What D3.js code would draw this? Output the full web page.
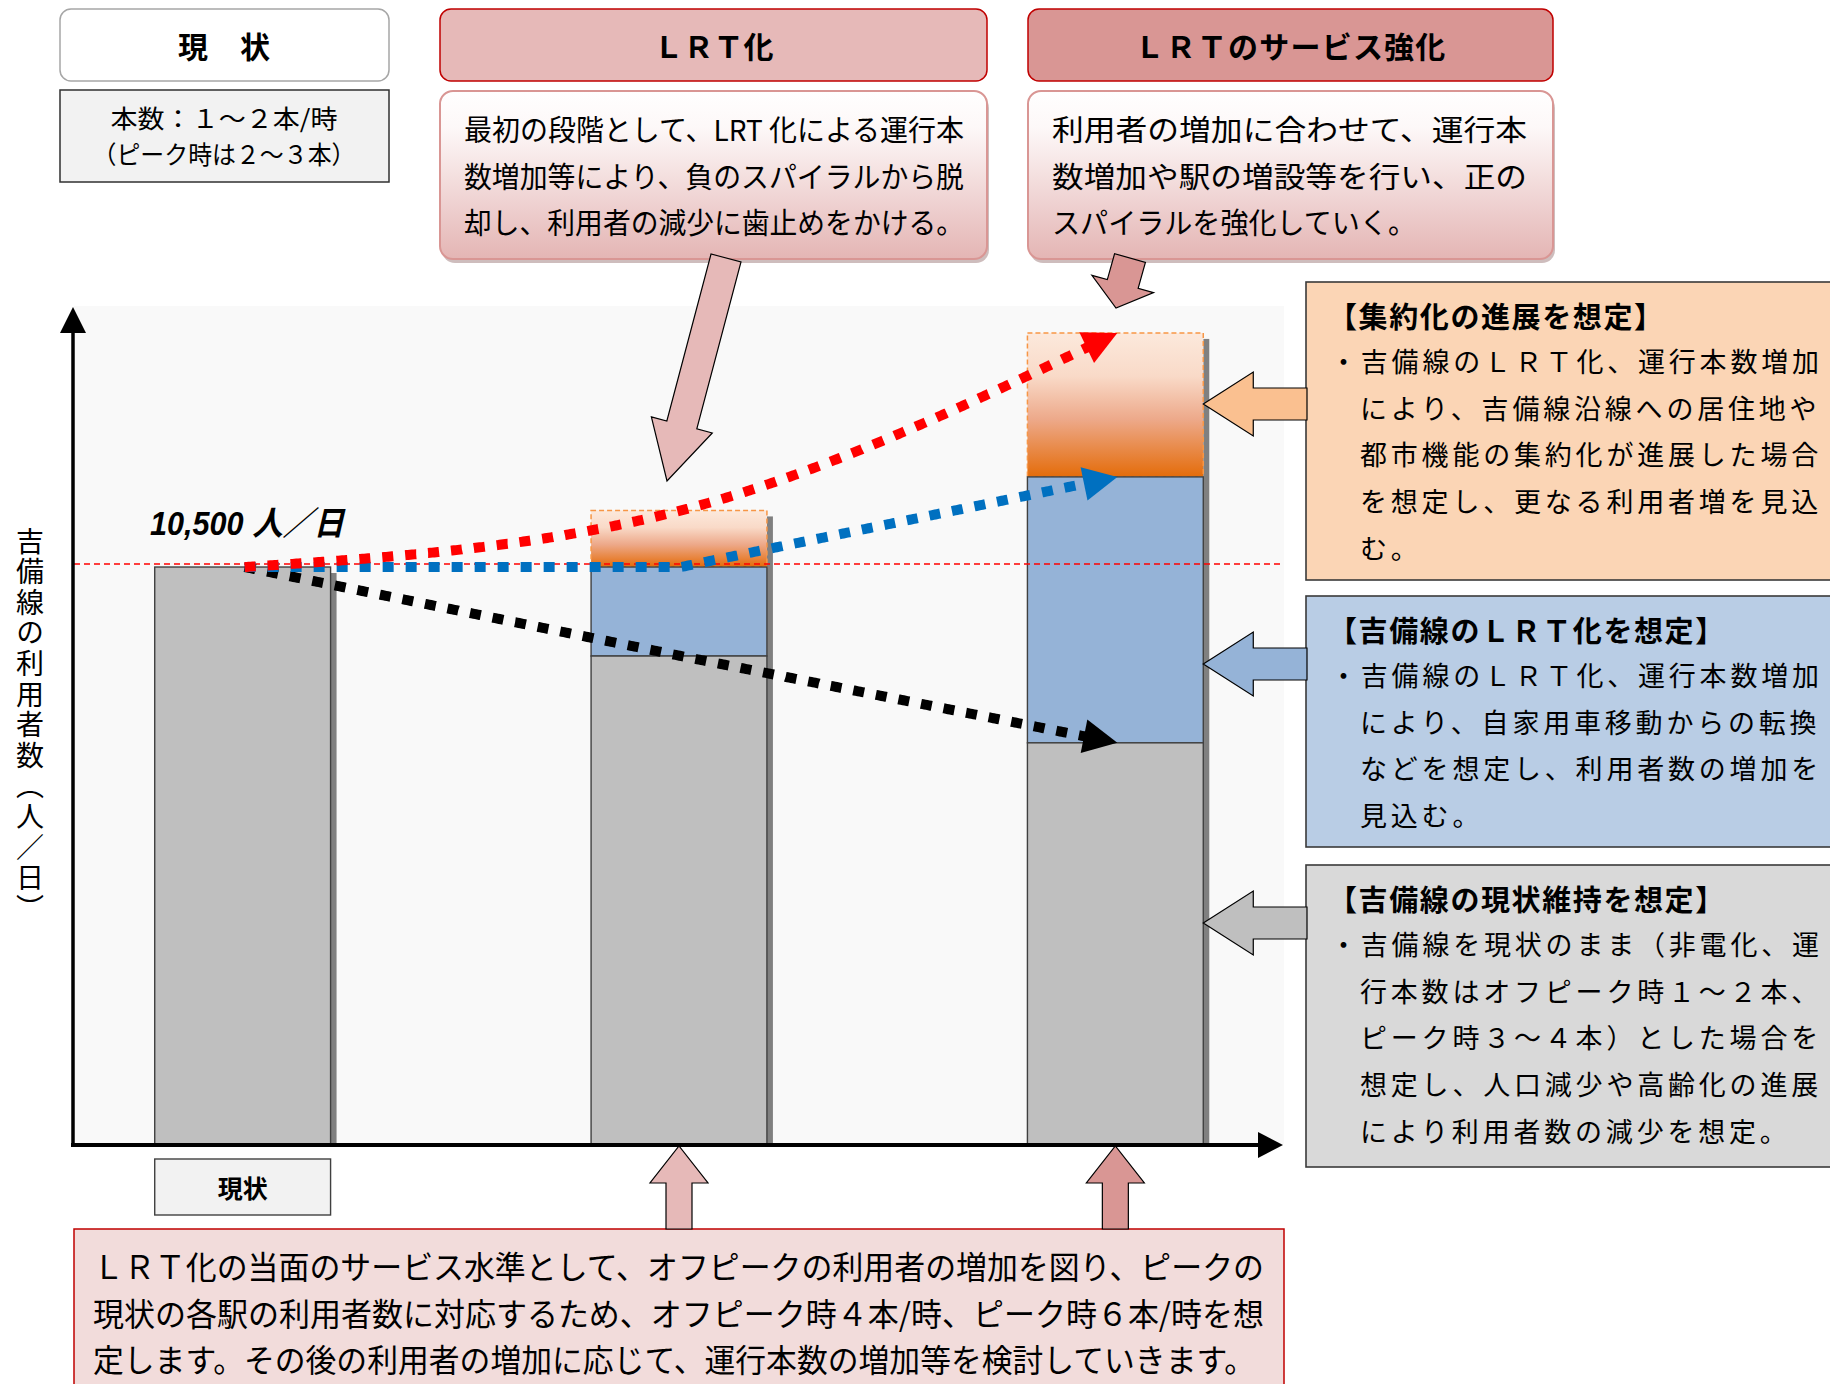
<!DOCTYPE html>
<html>
<head>
<meta charset="utf-8">
<script src="https://cdn.jsdelivr.net/npm/d3@7"></script>
<style>
  html, body { margin: 0; padding: 0; background: #fff; overflow: hidden; }
  svg { display: block; }
  text { font-family: "Noto Sans CJK JP", "Noto Sans", sans-serif; fill: #000; }
</style>
</head>
<body>
<div id="chart"></div>
<script>
// stages along the x axis
const categories = ['現状', 'ＬＲＴ化', 'ＬＲＴのサービス強化'];
// riders per day, stacked per stage
const baseRiders = [10500, 8880, 7300];   // 現状維持
const lrtGain = [0, 1620, 4840];          // ＬＲＴ化による増加
const compactGain = [0, 1030, 2620];      // 集約化による増加
const referenceValue = 10500;
const referenceLabel = '10,500 人／日';
const yAxisLabel = '吉備線の利用者数（人／日）';

const headerLabels = ['現　状', 'ＬＲＴ化', 'ＬＲＴのサービス強化'];
const currentService = ['本数：１～２本/時', '（ピーク時は２～３本）'];
const lrtDesc = ['最初の段階として、LRT 化による運行本', '数増加等により、負のスパイラルから脱', '却し、利用者の減少に歯止めをかける。'];
const serviceDesc = ['利用者の増加に合わせて、運行本', '数増加や駅の増設等を行い、正の', 'スパイラルを強化していく。'];
const compactNote = ['【集約化の進展を想定】', '・吉備線のＬＲＴ化、運行本数増加', 'により、吉備線沿線への居住地や', '都市機能の集約化が進展した場合', 'を想定し、更なる利用者増を見込', 'む。'];
const lrtNote = ['【吉備線のＬＲＴ化を想定】', '・吉備線のＬＲＴ化、運行本数増加', 'により、自家用車移動からの転換', 'などを想定し、利用者数の増加を', '見込む。'];
const keepNote = ['【吉備線の現状維持を想定】', '・吉備線を現状のまま（非電化、運', '行本数はオフピーク時１～２本、', 'ピーク時３～４本）とした場合を', '想定し、人口減少や高齢化の進展', 'により利用者数の減少を想定。'];
const bottomNote = ['ＬＲＴ化の当面のサービス水準として、オフピークの利用者の増加を図り、ピークの', '現状の各駅の利用者数に対応するため、オフピーク時４本/時、ピーク時６本/時を想', '定します。その後の利用者の増加に応じて、運行本数の増加等を検討していきます。'];

const width = 1830, height = 1384;
const plot = { left: 74, right: 1284, top: 306, bottom: 1144 };

const svg = d3.select('#chart').append('svg')
  .attr('width', width).attr('height', height);

const defs = svg.append('defs');

function vGradient(id, stops) {
  const gr = defs.append('linearGradient').attr('id', id)
    .attr('x1', 0).attr('y1', 0).attr('x2', 0).attr('y2', 1);
  stops.forEach(s => gr.append('stop').attr('offset', s[0]).attr('stop-color', s[1]));
}
vGradient('orangeGrad', [[0, '#fce9dc'], [0.3, '#f9dac8'], [0.6, '#eda98a'], [1, '#e46c0a']]);
vGradient('pinkGrad', [[0, '#ffffff'], [0.22, '#fdf8f8'], [1, '#e4b5b4']]);

function blockArrow(x1, y1, x2, y2, shaftW, headW, headL) {
  const len = Math.hypot(x2 - x1, y2 - y1);
  const dx = (x2 - x1) / len, dy = (y2 - y1) / len;
  const nx = -dy, ny = dx;
  const bx = x2 - dx * headL, by = y2 - dy * headL;
  return [
    [x1 + nx * shaftW / 2, y1 + ny * shaftW / 2],
    [bx + nx * shaftW / 2, by + ny * shaftW / 2],
    [bx + nx * headW / 2, by + ny * headW / 2],
    [x2, y2],
    [bx - nx * headW / 2, by - ny * headW / 2],
    [bx - nx * shaftW / 2, by - ny * shaftW / 2],
    [x1 - nx * shaftW / 2, y1 - ny * shaftW / 2]
  ];
}

function addLine(g, str, x, y, size, opts = {}) {
  const t = g.append('text')
    .attr('x', x).attr('y', y)
    .attr('font-size', size)
    .attr('dominant-baseline', 'central')
    .attr('text-anchor', opts.anchor || 'start')
    .attr('font-weight', opts.weight || 'normal')
    .text(str);
  if (opts.len) t.attr('textLength', opts.len).attr('lengthAdjust', opts.adjust || 'spacingAndGlyphs');
  if (opts.spacing) t.style('letter-spacing', opts.spacing + 'px');
  if (opts.family) t.style('font-family', opts.family);
  return t;
}

// ---- scales ----
const xScale = d3.scaleBand()
  .domain(categories)
  .range([plot.left, plot.right])
  .paddingInner(0.597)
  .paddingOuter(0.185);

const yScale = d3.scaleLinear()
  .domain([0, 15250])
  .range([plot.bottom, plot.top]);

const cx = c => xScale(c) + xScale.bandwidth() / 2;

// ---- plot background ----
svg.append('rect')
  .attr('x', plot.left).attr('y', plot.top)
  .attr('width', plot.right - plot.left).attr('height', plot.bottom - plot.top)
  .attr('fill', '#f9f9f9');

// ---- bars ----
const rows = categories.map((c, i) => ({ category: c, base: baseRiders[i], lrt: lrtGain[i], compact: compactGain[i] }));
const stacked = d3.stack().keys(['base', 'lrt', 'compact'])(rows);
const segStyle = {
  base: { fill: '#bfbfbf', stroke: '#404040', dash: null },
  lrt: { fill: '#95b3d7', stroke: '#404040', dash: null },
  compact: { fill: 'url(#orangeGrad)', stroke: '#f79646', dash: '5 3' }
};

const barGroup = svg.append('g').attr('class', 'bars');

// drop shadow on the right of each bar
barGroup.selectAll('rect.shadow')
  .data(rows)
  .enter().append('rect')
  .attr('class', 'shadow')
  .attr('x', d => xScale(d.category) + xScale.bandwidth())
  .attr('y', d => yScale(d.base + d.lrt + d.compact) + 6)
  .attr('width', 6)
  .attr('height', d => plot.bottom - yScale(d.base + d.lrt + d.compact) - 6)
  .attr('fill', '#808080');

// draw top layers first so lower segments' solid edges sit over the dashed edge
stacked.slice().reverse().forEach(layer => {
  const st = segStyle[layer.key];
  barGroup.selectAll('rect.' + layer.key)
    .data(layer.filter(d => d[1] - d[0] > 0))
    .enter().append('rect')
    .attr('class', layer.key)
    .attr('x', d => xScale(d.data.category))
    .attr('y', d => yScale(d[1]))
    .attr('width', xScale.bandwidth())
    .attr('height', d => yScale(d[0]) - yScale(d[1]))
    .attr('fill', st.fill)
    .attr('stroke', st.stroke)
    .attr('stroke-width', st.dash ? 1.5 : 1.4)
    .attr('stroke-dasharray', st.dash);
});

// ---- reference line ----
svg.append('line')
  .attr('x1', plot.left).attr('x2', plot.right)
  .attr('y1', yScale(referenceValue) - 3).attr('y2', yScale(referenceValue) - 3)
  .attr('stroke', '#ff0000').attr('stroke-width', 1.4)
  .attr('stroke-dasharray', '6 4');

svg.append('text')
  .attr('x', 150).attr('y', 535)
  .attr('font-size', 33)
  .attr('font-style', 'italic')
  .attr('font-weight', 'bold')
  .attr('textLength', 194).attr('lengthAdjust', 'spacingAndGlyphs')
  .style('font-family', '"Liberation Sans", "Noto Sans CJK JP", sans-serif')
  .text(referenceLabel);

// ---- trend arrows ----
const trendSeries = [
  { color: '#000000', values: baseRiders, curve: d3.curveLinear },
  { color: '#0070c0', values: baseRiders.map((v, i) => v + lrtGain[i]), curve: d3.curveLinear },
  { color: '#ff0000', values: baseRiders.map((v, i) => v + lrtGain[i] + compactGain[i]), curve: d3.curveMonotoneX }
];

const trendGroup = svg.append('g').attr('class', 'trends');
trendSeries.forEach(s => {
  const pts = categories.map((c, i) => [cx(c) + 2, yScale(s.values[i])]);
  const guide = trendGroup.append('path')
    .attr('d', d3.line().curve(s.curve)(pts))
    .attr('fill', 'none').attr('stroke', 'none');
  const node = guide.node();
  const L = node.getTotalLength();
  const headL = 34, headW = 34;
  const cut = L - headL + 3;
  const samples = d3.range(0, cut, 2).concat([cut]).map(l => {
    const p = node.getPointAtLength(l);
    return [p.x, p.y];
  });
  const tip = node.getPointAtLength(L);
  const base = node.getPointAtLength(L - headL);
  guide.remove();

  trendGroup.append('path')
    .attr('d', d3.line()(samples))
    .attr('fill', 'none')
    .attr('stroke', s.color)
    .attr('stroke-width', 10)
    .attr('stroke-dasharray', '11 12');

  const len = Math.hypot(tip.x - base.x, tip.y - base.y);
  const nx = -(tip.y - base.y) / len, ny = (tip.x - base.x) / len;
  trendGroup.append('polygon')
    .attr('points', [[tip.x, tip.y],
      [base.x + nx * headW / 2, base.y + ny * headW / 2],
      [base.x - nx * headW / 2, base.y - ny * headW / 2]].join(' '))
    .attr('fill', s.color);
});

// ---- axes ----
const axes = svg.append('g').attr('class', 'axes');
axes.append('line')
  .attr('x1', plot.left - 1).attr('x2', plot.left - 1)
  .attr('y1', plot.bottom + 2).attr('y2', plot.top + 24)
  .attr('stroke', '#000').attr('stroke-width', 3.5);
axes.append('polygon')
  .attr('points', [[plot.left - 1, plot.top + 1], [plot.left - 14, plot.top + 27], [plot.left + 12, plot.top + 27]].join(' '))
  .attr('fill', '#000');
axes.append('line')
  .attr('x1', plot.left - 3).attr('x2', plot.right - 24)
  .attr('y1', plot.bottom + 1).attr('y2', plot.bottom + 1)
  .attr('stroke', '#000').attr('stroke-width', 4);
axes.append('polygon')
  .attr('points', [[plot.right - 1, plot.bottom + 1], [plot.right - 26, plot.bottom - 12], [plot.right - 26, plot.bottom + 14]].join(' '))
  .attr('fill', '#000');

svg.append('text')
  .attr('x', 30).attr('y', 527)
  .attr('font-size', 28)
  .style('writing-mode', 'vertical-rl')
  .style('letter-spacing', '2.6px')
  .text(yAxisLabel);

// label box for the first stage
svg.append('rect')
  .attr('x', xScale(categories[0])).attr('y', 1159)
  .attr('width', xScale.bandwidth()).attr('height', 56)
  .attr('fill', '#f2f2f2').attr('stroke', '#404040').attr('stroke-width', 1.4);
addLine(svg, categories[0], cx(categories[0]), 1187, 25, { anchor: 'middle', weight: 'bold' });

// ---- header boxes ----
const headerBoxes = [
  { x: 60, w: 329, fill: '#ffffff', stroke: '#a6a6a6', spacing: 1 },
  { x: 440, w: 547, fill: '#e6b9b8', stroke: '#c00000', spacing: 0 },
  { x: 1028, w: 525, fill: '#d99694', stroke: '#c00000', spacing: 1.2 }
];
headerBoxes.forEach((b, i) => {
  svg.append('rect')
    .attr('x', b.x).attr('y', 9).attr('width', b.w).attr('height', 72)
    .attr('rx', 11)
    .attr('fill', b.fill).attr('stroke', b.stroke).attr('stroke-width', 1.5);
  addLine(svg, headerLabels[i], b.x + b.w / 2, 45, 30, { anchor: 'middle', weight: 'bold', spacing: b.spacing });
});

// current service box
svg.append('rect')
  .attr('x', 60).attr('y', 90).attr('width', 329).attr('height', 92)
  .attr('fill', '#f2f2f2').attr('stroke', '#303030').attr('stroke-width', 1.5);
addLine(svg, currentService[0], 224, 117, 25, { anchor: 'middle', len: 227 });
addLine(svg, currentService[1], 224, 153, 25, { anchor: 'middle', len: 263 });

// description boxes (rounded, gradient, shadow)
function descBox(x, w, lines, lens) {
  svg.append('rect')
    .attr('x', x + 2).attr('y', 95).attr('width', w).attr('height', 168)
    .attr('rx', 13).attr('fill', '#bda7a7').attr('opacity', 0.75);
  svg.append('rect')
    .attr('x', x).attr('y', 91).attr('width', w).attr('height', 168)
    .attr('rx', 13).attr('fill', 'url(#pinkGrad)')
    .attr('stroke', '#d99694').attr('stroke-width', 2);
  lines.forEach((t, i) => addLine(svg, t, x + 24, 128 + i * 46.5, 29, { len: lens[i] }));
}
descBox(440, 547, lrtDesc, [500, 500, 500]);
descBox(1028, 525, serviceDesc, [475, 475, 364]);

// callout arrows from the description boxes
svg.append('polygon')
  .attr('points', blockArrow(726, 258, 667, 481, 31, 63, 58).join(' '))
  .attr('fill', '#e6b9b8').attr('stroke', '#000').attr('stroke-width', 1.2);
svg.append('polygon')
  .attr('points', blockArrow(1130, 258, 1116, 308, 32, 64, 25).join(' '))
  .attr('fill', '#d99694').attr('stroke', '#000').attr('stroke-width', 1.2);

// ---- scenario notes on the right ----
const notes = [
  { lines: compactNote, y: 282, h: 298, fill: '#fbd5b5', arrowFill: '#fac090', arrowY: 404 },
  { lines: lrtNote, y: 596, h: 251, fill: '#b9cde5', arrowFill: '#95b3d7', arrowY: 664 },
  { lines: keepNote, y: 865, h: 302, fill: '#d9d9d9', arrowFill: '#bfbfbf', arrowY: 923 }
];
const barRight = xScale(categories[2]) + xScale.bandwidth();
notes.forEach(n => {
  svg.append('rect')
    .attr('x', 1306).attr('y', n.y).attr('width', 560).attr('height', n.h)
    .attr('fill', n.fill).attr('stroke', '#3a3a3a').attr('stroke-width', 1.6);
  svg.append('polygon')
    .attr('points', blockArrow(1307, n.arrowY, barRight, n.arrowY, 32, 64, 50).join(' '))
    .attr('fill', n.arrowFill).attr('stroke', '#000').attr('stroke-width', 1.2);
  addLine(svg, n.lines[0], 1328, n.y + 33, 29, { weight: 'bold', spacing: 1.6 });
  n.lines.slice(1).forEach((t, i) => {
    addLine(svg, t, i === 0 ? 1330 : 1360, n.y + 81 + i * 46.7, 27, {
      spacing: 3.8, family: '"Liberation Serif", "Noto Sans CJK JP", serif'
    });
  });
});

// ---- bottom note ----
svg.append('rect')
  .attr('x', plot.left).attr('y', 1229)
  .attr('width', plot.right - plot.left).attr('height', 200)
  .attr('fill', '#f2dcdb').attr('stroke', '#c00000').attr('stroke-width', 1.5);
const bottomLens = [1171, 1171, 1162];
bottomNote.forEach((t, i) => addLine(svg, t, 93, 1265 + i * 46.5, 32, { len: bottomLens[i] }));

// up arrows from the bottom note to the LRT stages
[[categories[1], '#e6b9b8'], [categories[2], '#d99694']].forEach(([c, fill]) => {
  svg.append('polygon')
    .attr('points', blockArrow(cx(c), 1229, cx(c), plot.bottom + 2, 26, 58, 37).join(' '))
    .attr('fill', fill).attr('stroke', '#000').attr('stroke-width', 1.2);
});
</script>
</body>
</html>
